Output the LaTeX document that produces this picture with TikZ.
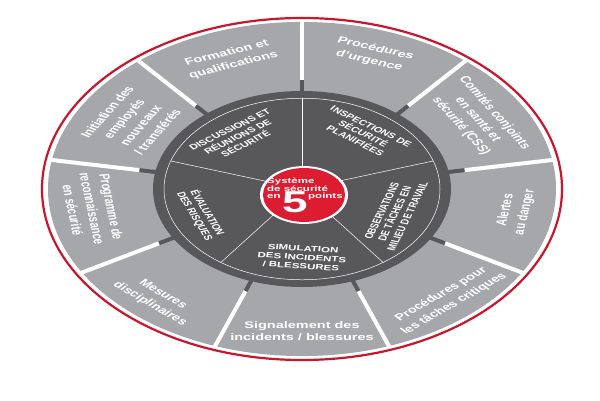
\documentclass[tikz,border=0pt]{standalone}
\usepackage{fontspec}
\setmainfont{Liberation Sans}
\definecolor{cLight}{RGB}{166,167,170}
\definecolor{cDark}{RGB}{88,88,90}
\definecolor{cRing}{RGB}{200,22,44}
\definecolor{cCenter}{RGB}{220,28,48}
\tikzset{
  outerlbl/.style={text=white, font=\bfseries\fontsize{14.5}{19.5}\selectfont, align=center, inner sep=0pt, transform shape},
  innerlbl/.style={text=white, font=\bfseries\fontsize{11.5}{13.5}\selectfont, align=center, inner sep=0pt, transform shape},
  centerlbl/.style={text=white, font=\bfseries\fontsize{11.5}{13}\selectfont, inner sep=0pt, anchor=base west, transform shape},
  sepwhite/.style={white, line width=4pt},
  sepdark/.style={cDark, line width=4pt},
  thinline/.style={white, line width=0.5pt},
}
\begin{document}
\begin{tikzpicture}[x=1pt,y=1pt]
\useasboundingbox (0,0) rectangle (600,400);
\fill[white] (0,0) rectangle (600,400);
\begin{scope}[shift={(302,211)}, yscale=0.6577]
  % outer ring
  \draw[cRing, line width=2.2pt] (0,0) circle[radius=260];
  \fill[cLight] (0,0) circle[radius=254];
  \foreach \a in {10,50,...,330} {
    \draw[sepwhite] (\a:165) -- (\a:255);
    \draw[sepdark] (\a:145) -- (\a:165);
  }
  % inner disc
  \fill[cDark] (0,0) circle[radius=149];
  \draw[thinline] (0,0) circle[radius=138];
  \foreach \a in {18,90,162,234,306} \draw[thinline] (0,0) -- (\a:138);
  % centre
  \fill[white] (2,-9.1) circle[radius=44];
  \fill[cCenter] (2,-9.1) circle[radius=41];

  % outer labels
  \node[outerlbl, rotate=20] (formation) at (110:210) {Formation et\\qualifications};
  \node[outerlbl, rotate=-19] (urgence) at (71:216) {Procédures\\d’urgence};
  \node[outerlbl, rotate=-59] (comites) at (31:205) {Comités conjoints\\en santé et\\sécurité (CSS)};
  \node[outerlbl, rotate=59] (initiation) at (149:198) {Initiation des\\employés\\nouveaux\\/ transférés};
  \node[outerlbl, rotate=-82] (programme) at (188:212) {Programme de\\reconnaissance\\en sécurité};
  \node[outerlbl, rotate=-41] (mesures) at (229:222) {Mesures\\disciplinaires};
  \node[outerlbl] (signalement) at (270:216) {Signalement des\\incidents / blessures};
  \node[outerlbl, rotate=41] (critiques) at (311:222) {Procédures pour\\les tâches critiques};
  \node[outerlbl, rotate=81] (alertes) at (351:216) {Alertes\\au danger};

  % inner labels
  \node[innerlbl, rotate=36] (discussions) at (129:102) {DISCUSSIONS ET\\RÉUNIONS DE\\SÉCURITÉ};
  \node[innerlbl, rotate=-36] (inspections) at (54:104) {INSPECTIONS DE\\SÉCURITÉ\\PLANIFIÉES};
  \node[innerlbl, rotate=72] (observations) at (338:100) {OBSERVATIONS\\DE TÂCHES EN\\MILIEU DE TRAVAIL};
  \node[innerlbl, rotate=-5] (simulation) at (270:104) {SIMULATION\\DES INCIDENTS\\/ BLESSURES};
  \node[innerlbl, rotate=-68] (evaluation) at (201:108) {ÉVALUATION\\DES RISQUES};

  % centre text
  \node[centerlbl] (systeme) at (-35,9.1) {Système};
  \node[centerlbl] (securite) at (-35,-4.1) {de sécurité};
  \node[centerlbl] (en) at (-35,-13.7) {en};
  \node[centerlbl, font=\bfseries\fontsize{46}{46}\selectfont] (five) at (-20,-35) {5};
  \node[centerlbl] (points) at (6,-13.7) {points};
\end{scope}
\end{tikzpicture}
\end{document}
